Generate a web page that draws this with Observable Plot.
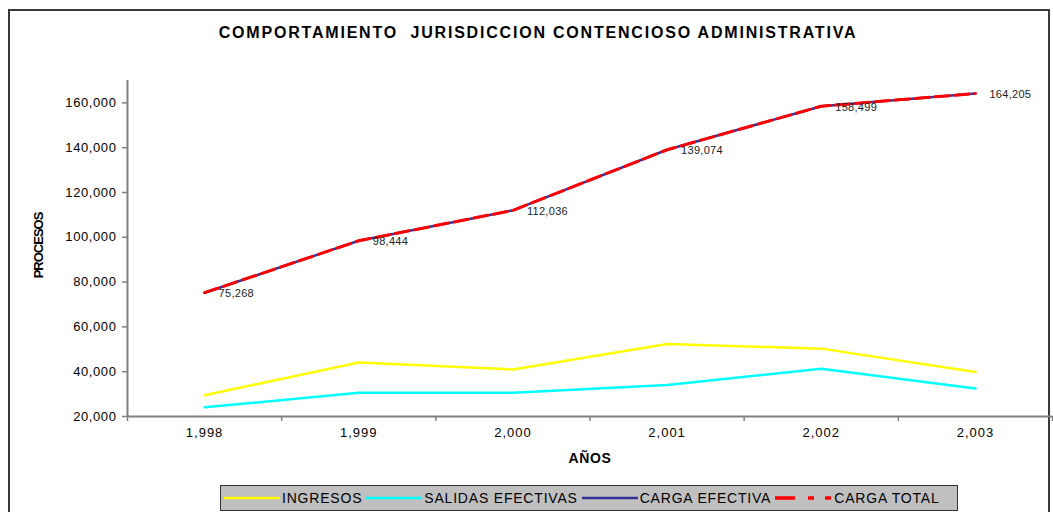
<!DOCTYPE html>
<html>
<head>
<meta charset="utf-8">
<script src="https://cdn.jsdelivr.net/npm/d3@7"></script>
<script src="https://cdn.jsdelivr.net/npm/@observablehq/plot@0.6"></script>
<style>
  body { margin: 0; background: #fff; font-family: "Liberation Sans", Arial, sans-serif; }
  #wrap { position: relative; width: 1053px; height: 512px; overflow: hidden; }
  #frame { position: absolute; left: 8px; top: 9px; width: 1042px; height: 520px; border: 2px solid #3a3a3a; box-sizing: border-box; }
  #title { position: absolute; left: 0; width: 1076px; top: 24px; text-align: center; font-weight: bold; font-size: 16px; letter-spacing: 1.8px; white-space: pre; color: #000; }
  #chart { position: absolute; left: 0; top: 0; }
  #legend { position: absolute; left: 220px; top: 485px; width: 738px; height: 26px; box-sizing: border-box; background: #c0c0c0; border: 1.5px solid #333; display: flex; align-items: center; padding-left: 3px; font-size: 14px; letter-spacing: 0.8px; white-space: nowrap; }
  #legend .item { display: flex; align-items: center; }
  #legend svg { display: block; }
  #legend span { margin-left: 2px; margin-right: 4px; }
  [aria-label="y-axis tick label"] text { letter-spacing: 0.6px; }
  [aria-label="x-axis tick label"] text { letter-spacing: 1px; }
  [aria-label="text"] text { letter-spacing: 0.3px; }
</style>
</head>
<body>
<div id="wrap">
  <div id="frame"></div>
  <div id="chart"></div>
  <div id="title">COMPORTAMIENTO  JURISDICCION CONTENCIOSO ADMINISTRATIVA</div>
  <div id="legend"></div>
</div>
<script>
const years = [1998, 1999, 2000, 2001, 2002, 2003];
const ingresos = [29500, 44100, 41000, 52400, 50300, 39900];
const salidasEfectivas = [24100, 30600, 30600, 34100, 41300, 32500];
const cargaEfectiva = [75268, 98444, 112036, 139074, 158499, 164205];
const cargaTotal = [75268, 98444, 112036, 139074, 158499, 164205];
const yTicks = [20000, 40000, 60000, 80000, 100000, 120000, 140000, 160000];
const yDomain = [20000, 170000];
const seriesNames = ["INGRESOS", "SALIDAS EFECTIVAS", "CARGA EFECTIVA", "CARGA TOTAL"];
const seriesColors = ["#ffff00", "#00ffff", "#333399", "#ff0000"];

const xDomain = [years[0] - 0.5, years[years.length - 1] + 0.5];
const boundaries = [...years.map(y => y - 0.5), years[years.length - 1] + 0.5];
const rows = (vals) => years.map((y, i) => ({year: y, value: vals[i]}));
const fmt = d3.format(",");

const chart = Plot.plot({
  width: 1053,
  height: 512,
  marginLeft: 127,
  marginRight: 1,
  marginTop: 80,
  marginBottom: 96,
  style: {fontFamily: "'Liberation Sans', Arial, sans-serif", background: "transparent", color: "#000"},
  x: {domain: xDomain, axis: null},
  y: {domain: yDomain, axis: null},
  marks: [
    Plot.axisY({ticks: yTicks, tickSize: 5, tickPadding: 6, tickFormat: fmt, label: null, fontSize: 13, stroke: "#808080", fill: "#000", strokeWidth: 1.5}),
    Plot.axisX({ticks: years, tickSize: 0, tickPadding: 11, tickFormat: fmt, label: null, fontSize: 13, fill: "#000"}),
    Plot.axisX({ticks: boundaries, tickSize: 5, tickFormat: () => "", label: null, stroke: "#808080", strokeWidth: 1.5}),
    Plot.ruleY([yDomain[0]], {stroke: "#808080", strokeWidth: 2}),
    Plot.ruleX([xDomain[0]], {stroke: "#808080", strokeWidth: 2}),
    Plot.line(rows(ingresos), {x: "year", y: "value", stroke: seriesColors[0], strokeWidth: 2.5}),
    Plot.line(rows(salidasEfectivas), {x: "year", y: "value", stroke: seriesColors[1], strokeWidth: 2.5}),
    Plot.line(rows(cargaEfectiva), {x: "year", y: "value", stroke: seriesColors[2], strokeWidth: 2.5}),
    Plot.line(rows(cargaTotal), {x: "year", y: "value", stroke: seriesColors[3], strokeWidth: 3, strokeDasharray: "14,6"}),
    Plot.text(rows(cargaTotal), {x: "year", y: "value", text: d => fmt(d.value), textAnchor: "start", dx: 14, dy: 1, fontSize: 11, fill: "#222"}),
    Plot.text(["PROCESOS"], {frameAnchor: "left", textAnchor: "middle", dx: -89, dy: -3, rotate: -90, fontWeight: "bold", fontSize: 13, fill: "#000"}),
    Plot.text(["AÑOS"], {frameAnchor: "bottom", dy: 46, fontWeight: "bold", fontSize: 14, fill: "#000"})
  ]
});
d3.select(chart).selectAll("text").filter(function () { return this.textContent === "PROCESOS"; }).style("letter-spacing", "-1px");
d3.select(chart).selectAll("text").filter(function () { return this.textContent === "AÑOS"; }).style("letter-spacing", "0.6px");
document.getElementById("chart").appendChild(chart);

const legend = document.getElementById("legend");
const dashes = [null, null, null, "20,13,6,11,6"];
seriesNames.forEach((name, i) => {
  const item = document.createElement("div");
  item.className = "item";
  const w = i === 3 ? 57 : 56;
  item.innerHTML = `<svg width="${w}" height="10"><line x1="0" x2="${w}" y1="5" y2="5" stroke="${seriesColors[i]}" stroke-width="${i === 3 ? 3.5 : 2.5}" ${dashes[i] ? `stroke-dasharray="${dashes[i]}"` : ""}/></svg><span>${name}</span>`;
  legend.appendChild(item);
});
</script>
</body>
</html>
